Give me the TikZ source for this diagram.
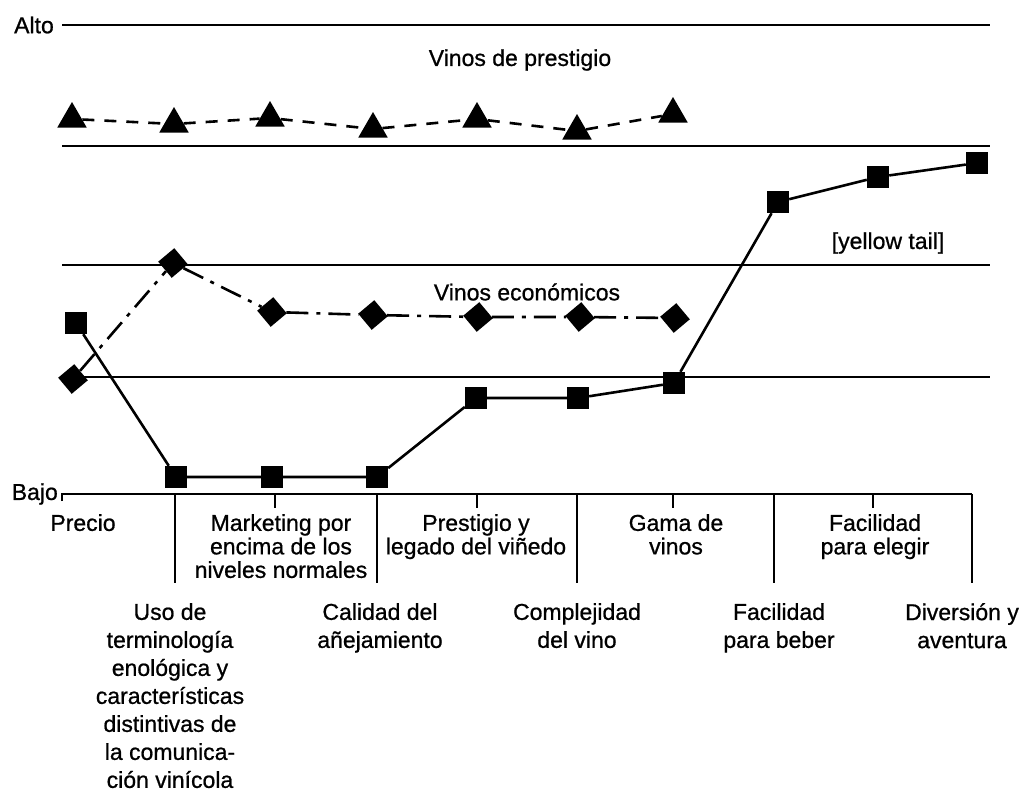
\documentclass[tikz,border=0pt]{standalone}
\usepackage{fontspec}
\setmainfont{Liberation Sans}
\newfontfamily\etiqueta[FakeBold=0.8]{Liberation Sans}
\usetikzlibrary{shapes.geometric}

\begin{document}
\begin{tikzpicture}[x=1pt, y=-1pt,
    tri/.style = {regular polygon, regular polygon sides=3, fill, inner sep=0, minimum size=34},
    sq/.style = {shape = rectangle, fill, inner sep=0, minimum size=22},
    dia/.style = {shape = rectangle, fill, inner sep=0, minimum size=21, rotate=40},
    rejilla/.style = {line width=1.6},
    serie/.style = {line width=2.6},
    txt/.style = {font=\etiqueta\fontsize{23}{23}\selectfont, inner sep=0},
    cat/.style = {font=\etiqueta\fontsize{23}{23.5}\selectfont, align=center, anchor=north, inner sep=0},
    cattwo/.style = {font=\etiqueta\fontsize{23}{28}\selectfont, align=center, anchor=north, inner sep=0}]
    \useasboundingbox (0,0) rectangle (1031,809);

    % niveles
    \draw [rejilla] (62,25) -- (990,25);
    \draw [rejilla] (62,146) -- (990,146);
    \draw [rejilla] (62,265) -- (990,265);
    \draw [rejilla] (62,377) -- (990,377);
    \draw [rejilla] (62,501) -- (62,494) -- (972,494);
    \node (alto) [txt, anchor=east] at (54,25) {Alto};
    \node (bajo) [txt, anchor=east] at (58,494) {Bajo};

    % separadores del eje
    \draw [rejilla] (175,494) -- (175,583);
    \draw [rejilla] (377,494) -- (377,583);
    \draw [rejilla] (577,494) -- (577,583);
    \draw [rejilla] (774,494) -- (774,583);
    \draw [rejilla] (972,494) -- (972,583);
    \draw [rejilla] (275,494) -- (275,508);
    \draw [rejilla] (477,494) -- (477,508);
    \draw [rejilla] (673,494) -- (673,508);
    \draw [rejilla] (873,494) -- (873,508);

    % textos
    \node (prestigio) [txt] at (520,60) {Vinos de prestigio};
    \node (yt) [txt] at (888,243) {[yellow tail]};
    \node (economicos) [txt] at (527,292) {Vinos económicos};

    % vinos de prestigio
    \node (p1) [tri] at (72,119) {};
    \node (p2) [tri] at (174,124) {};
    \node (p3) [tri] at (270,118) {};
    \node (p4) [tri] at (373,129) {};
    \node (p5) [tri] at (477,119) {};
    \node (p6) [tri] at (577,131) {};
    \node (p7) [tri] at (673,114) {};
    \draw [serie, dash pattern=on 12pt off 10pt] (p1) -- (p2) -- (p3) -- (p4) -- (p5) -- (p6) -- (p7);

    % vinos economicos
    \node (e1) [dia] at (73,379) {};
    \node (e2) [dia] at (173,263) {};
    \node (e3) [dia] at (272,312) {};
    \node (e4) [dia] at (373,315) {};
    \node (e5) [dia] at (478,317) {};
    \node (e6) [dia] at (580,317) {};
    \node (e7) [dia] at (675,318) {};
    \draw [serie, dash pattern=on 22pt off 8pt on 4pt off 8pt] (e1) -- (e2) -- (e3) -- (e4) -- (e5) -- (e6) -- (e7);

    % yellow tail
    \node (y1) [sq] at (76,323) {};
    \node (y2) [sq] at (176,477) {};
    \node (y3) [sq] at (272,477) {};
    \node (y4) [sq] at (377,477) {};
    \node (y5) [sq] at (476,398) {};
    \node (y6) [sq] at (578,398) {};
    \node (y7) [sq] at (674,383) {};
    \node (y8) [sq] at (778,202) {};
    \node (y9) [sq] at (878,177) {};
    \node (y10) [sq] at (977,163) {};
    \draw [serie] (y1) -- (y2) -- (y3) -- (y4) -- (y5) -- (y6) -- (y7) -- (y8) -- (y9) -- (y10);

    % categorias
    \node (precio) [cat] at (83,514) {Precio};
    \node (marketing) [cat] at (281,514) {Marketing por\\encima de los\\niveles normales};
    \node (legado) [cat] at (476,514) {Prestigio y\\legado del viñedo};
    \node (gama) [cat] at (676,514) {Gama de\\vinos};
    \node (elegir) [cat] at (875,514) {Facilidad\\para elegir};
    \node (uso) [cattwo] at (170,603) {Uso de\\terminología\\enológica y\\características\\distintivas de\\la comunica-\\ción vinícola};
    \node (calidad) [cattwo] at (380,603) {Calidad del\\añejamiento};
    \node (complejidad) [cattwo] at (577,603) {Complejidad\\del vino};
    \node (beber) [cattwo] at (779,603) {Facilidad\\para beber};
    \node (diversion) [cattwo] at (962,603) {Diversión y\\aventura};
\end{tikzpicture}
\end{document}
